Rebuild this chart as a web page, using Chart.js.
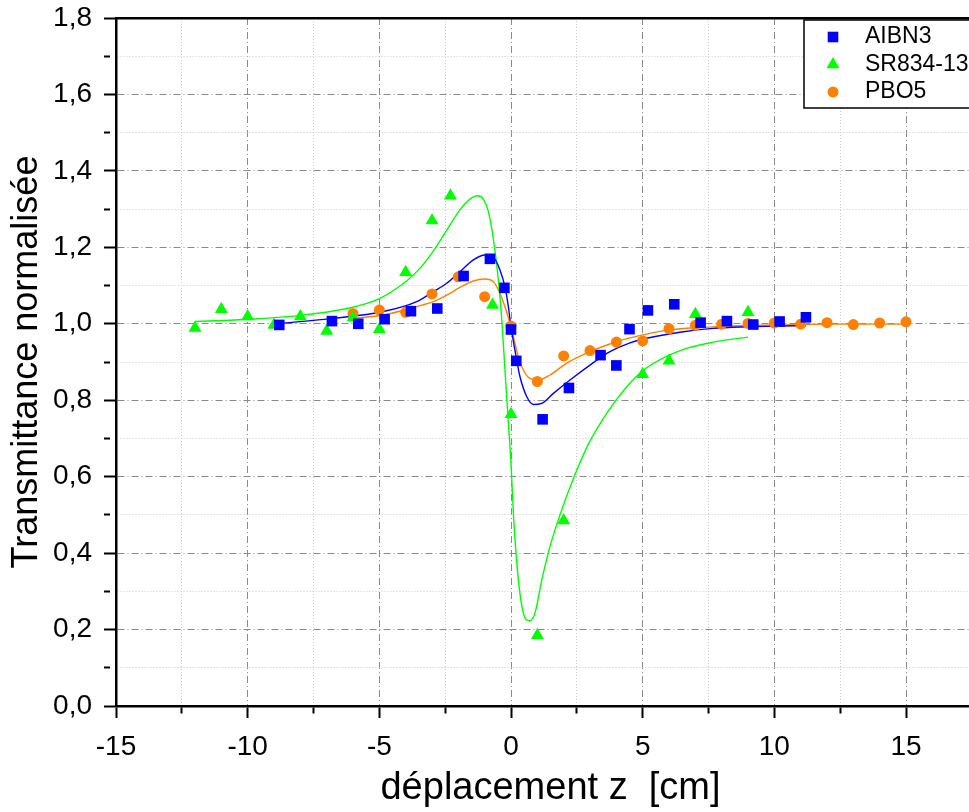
<!DOCTYPE html>
<html>
<head>
<meta charset="utf-8">
<script src="https://cdn.jsdelivr.net/npm/chart.js@4.4.1/dist/chart.umd.min.js"></script>
<style>
  html, body { margin: 0; padding: 0; background: #fff; overflow: hidden; }
</style>
</head>
<body>
<canvas id="chart" width="1000" height="812"></canvas>
<script>
// measured points (z in cm, normalised transmittance)
const aibn3Z = [-8.8, -6.8, -5.8, -4.8, -3.8, -2.8, -1.8, -0.8, -0.25, 0, 0.2, 1.2, 2.2, 3.4, 4.0, 4.5, 5.2, 6.2, 7.2, 8.2, 9.2, 10.2, 11.2];
const aibn3T = [0.997, 1.007, 1.0, 1.012, 1.033, 1.04, 1.125, 1.17, 1.094, 0.985, 0.903, 0.75, 0.832, 0.918, 0.891, 0.986, 1.035, 1.051, 1.003, 1.007, 0.998, 1.006, 1.017];

const sr834Z = [-12, -11, -10, -9, -8, -7, -6, -5, -4, -3, -2.3, -0.7, 0, 1, 2, 5, 6, 7, 9];
const sr834T = [0.989, 1.038, 1.019, 0.997, 1.019, 0.981, 1.016, 0.986, 1.135, 1.27, 1.335, 1.049, 0.763, 0.185, 0.485, 0.868, 0.903, 1.025, 1.03];

const pbo5Z = [-6, -5, -4, -3, -2, -1, 0, 1, 2, 3, 4, 5, 6, 7, 8, 9, 10, 11, 12, 13, 14, 15];
const pbo5T = [1.027, 1.036, 1.03, 1.078, 1.123, 1.071, 0.994, 0.849, 0.916, 0.93, 0.952, 0.955, 0.987, 0.996, 0.999, 1.001, 1.002, 0.999, 1.003, 0.998, 1.002, 1.005];

// fitted curves
const aibn3FitZ = [-8.8, -6.75, -4.85, -3.58, -2.95, -2.44, -1.94, -1.43, -0.99, -0.67, -0.42, -0.23, -0.1, 0.0, 0.15, 0.34, 0.6, 0.85, 1.17, 1.61, 2.24, 3.0, 3.76, 4.52, 5.15, 6.42, 7.68, 8.95, 10.2, 11.2];
const aibn3FitT = [1.001, 1.014, 1.032, 1.058, 1.084, 1.106, 1.136, 1.167, 1.18, 1.174, 1.141, 1.097, 1.045, 0.992, 0.931, 0.862, 0.809, 0.789, 0.792, 0.818, 0.853, 0.892, 0.927, 0.95, 0.962, 0.978, 0.988, 0.992, 0.994, 0.995];

const sr834FitZ = [-12, -9.9, -8, -6.1, -5, -4, -3.46, -2.95, -2.44, -1.94, -1.56, -1.27, -1.05, -0.86, -0.67, -0.48, -0.35, -0.23, -0.1, 0.0, 0.09, 0.28, 0.47, 0.7, 0.91, 1.17, 1.48, 1.86, 2.37, 2.94, 3.63, 4.52, 5.15, 6.42, 7.68, 9.0];
const sr834FitT = [1.006, 1.012, 1.022, 1.042, 1.066, 1.11, 1.145, 1.19, 1.245, 1.298, 1.326, 1.335, 1.326, 1.294, 1.222, 1.115, 1.01, 0.88, 0.74, 0.635, 0.504, 0.33, 0.243, 0.223, 0.243, 0.33, 0.417, 0.5, 0.595, 0.685, 0.765, 0.845, 0.885, 0.93, 0.952, 0.965];

const pbo5FitZ = [-6, -4.85, -3.58, -2.95, -2.44, -1.94, -1.43, -0.99, -0.67, -0.42, -0.19, 0.0, 0.09, 0.28, 0.47, 0.72, 1.04, 1.48, 2.12, 3.0, 4.01, 4.52, 6.0, 7.68, 10.2, 12.5, 15];
const pbo5FitT = [1.014, 1.023, 1.045, 1.058, 1.075, 1.095, 1.112, 1.117, 1.11, 1.08, 1.036, 0.992, 0.966, 0.914, 0.879, 0.857, 0.853, 0.866, 0.897, 0.927, 0.953, 0.963, 0.984, 0.992, 0.997, 0.999, 0.999];

// axes
const xMajorTicks = [-15, -10, -5, 0, 5, 10, 15];
const xMinorTicks = [-12.5, -7.5, -2.5, 2.5, 7.5, 12.5, 17.5];
const yMajorTicks = [0, 0.2, 0.4, 0.6, 0.8, 1.0, 1.2, 1.4, 1.6, 1.8];
const yMajorLabels = ["0,0", "0,2", "0,4", "0,6", "0,8", "1,0", "1,2", "1,4", "1,6", "1,8"];
const yMinorTicks = [0.1, 0.3, 0.5, 0.7, 0.9, 1.1, 1.3, 1.5, 1.7];

const FONT = '"Liberation Sans", Arial, Helvetica, sans-serif';
Chart.defaults.font.family = FONT;
Chart.defaults.color = "#000";

const colors = { AIBN3: "#0000ff", "SR834-13": "#00ff00", PBO5: "#ff8000" };

function pts(xs, ys) {
  return xs.map((x, i) => ({ x: x, y: ys[i] }));
}

function isMajor(list, v) {
  return list.some((m) => Math.abs(m - v) < 1e-6);
}

function fitLine(label, xs, ys) {
  return {
    label: label + " fit",
    data: pts(xs, ys),
    showLine: true,
    pointRadius: 0,
    borderWidth: 1.4,
    borderColor: colors[label],
    cubicInterpolationMode: "monotone",
    order: 2,
  };
}

function markers(label, xs, ys, style, radius) {
  return {
    label: label,
    data: pts(xs, ys),
    showLine: false,
    pointStyle: style,
    pointRadius: radius,
    pointHoverRadius: radius,
    pointBackgroundColor: colors[label],
    pointBorderColor: colors[label],
    pointBorderWidth: 0,
    backgroundColor: colors[label],
    borderColor: colors[label],
    legendMarker: { style: style, radius: radius },
    order: 1,
  };
}

function gridStyle(majorList) {
  return {
    color: (ctx) => (ctx.tick && isMajor(majorList, ctx.tick.value) ? "#8a8a8a" : "#cdcdcd"),
    lineWidth: 1,
    tickColor: "#000",
    tickWidth: 2,
    tickLength: 12,
    tickBorderDash: (ctx) => (ctx.tick && isMajor(majorList, ctx.tick.value) ? [] : [6, 100]),
  };
}

function borderStyle(majorList) {
  return {
    color: "#000",
    width: 2.5,
    dash: (ctx) => (ctx.tick && isMajor(majorList, ctx.tick.value) ? [7, 3, 1, 3] : [1, 2]),
  };
}

// legend drawn inside the plot, top right
const insideLegend = {
  id: "insideLegend",
  afterDraw(chart) {
    const { ctx, chartArea } = chart;
    const w = 179, h = 88;
    const left = chartArea.right - 181;
    const top = chartArea.top + 2;
    ctx.save();
    ctx.fillStyle = "#fff";
    ctx.fillRect(left, top, w, h);
    ctx.strokeStyle = "#000";
    ctx.lineWidth = 1.5;
    ctx.strokeRect(left, top, w, h);
    ctx.font = "23px " + FONT;
    ctx.textBaseline = "middle";
    ctx.textAlign = "left";
    let row = 0;
    chart.data.datasets.forEach((ds) => {
      if (!ds.legendMarker) return;
      const y = top + 17 + row * 27.5;
      ctx.fillStyle = ds.pointBackgroundColor;
      ctx.strokeStyle = ds.pointBackgroundColor;
      Chart.helpers.drawPoint(ctx, {
        pointStyle: ds.legendMarker.style,
        radius: ds.legendMarker.radius,
        rotation: 0,
        borderWidth: 0,
      }, left + 29, y);
      ctx.fillStyle = "#000";
      ctx.fillText(ds.label, left + 61, y);
      row++;
    });
    ctx.restore();
  },
};

new Chart(document.getElementById("chart"), {
  type: "scatter",
  data: {
    datasets: [
      markers("AIBN3", aibn3Z, aibn3T, "rect", 7.5),
      markers("SR834-13", sr834Z, sr834T, "triangle", 7.5),
      markers("PBO5", pbo5Z, pbo5T, "circle", 5.5),
      fitLine("AIBN3", aibn3FitZ, aibn3FitT),
      fitLine("SR834-13", sr834FitZ, sr834FitT),
      fitLine("PBO5", pbo5FitZ, pbo5FitT),
    ],
  },
  options: {
    responsive: false,
    animation: false,
    devicePixelRatio: 1,
    layout: { padding: { left: 0, right: 15, top: 0, bottom: 0 } },
    plugins: {
      legend: { display: false },
      tooltip: { enabled: false },
    },
    scales: {
      x: {
        type: "linear",
        position: "bottom",
        min: -15,
        max: 18,
        afterBuildTicks: (scale) => {
          scale.ticks = xMajorTicks.concat(xMinorTicks).sort((a, b) => a - b).map((v) => ({ value: v }));
        },
        afterFit: (scale) => {
          scale.height = 106;
          scale.paddingLeft = 0;
          scale.paddingRight = 0;
        },
        ticks: {
          autoSkip: false,
          maxRotation: 0,
          padding: 12,
          font: { size: 28 },
          callback: (v) => (isMajor(xMajorTicks, v) ? String(v) : ""),
        },
        grid: gridStyle(xMajorTicks),
        border: borderStyle(xMajorTicks),
        title: {
          display: true,
          text: "déplacement z  [cm]",
          font: { size: 38 },
          padding: { top: 0, bottom: 1 },
        },
      },
      xTop: {
        type: "linear",
        position: "top",
        min: -15,
        max: 18,
        afterFit: (scale) => { scale.height = 18; },
        ticks: { display: false },
        grid: { display: false, drawTicks: false },
        border: { color: "#000", width: 2.5 },
      },
      y: {
        type: "linear",
        position: "left",
        min: 0,
        max: 1.8,
        afterBuildTicks: (scale) => {
          scale.ticks = yMajorTicks.concat(yMinorTicks).sort((a, b) => a - b).map((v) => ({ value: v }));
        },
        afterFit: (scale) => {
          scale.width = 116;
          scale.paddingTop = 0;
          scale.paddingBottom = 0;
        },
        ticks: {
          autoSkip: false,
          padding: 12,
          font: { size: 28 },
          callback: (v) => {
            const i = yMajorTicks.findIndex((m) => Math.abs(m - v) < 1e-6);
            return i >= 0 ? yMajorLabels[i] : "";
          },
        },
        grid: gridStyle(yMajorTicks),
        border: borderStyle(yMajorTicks),
        title: {
          display: true,
          text: "Transmittance normalisée",
          font: { size: 36 },
          padding: { top: 5, bottom: 0 },
        },
      },
    },
  },
  plugins: [insideLegend],
});
</script>
</body>
</html>
